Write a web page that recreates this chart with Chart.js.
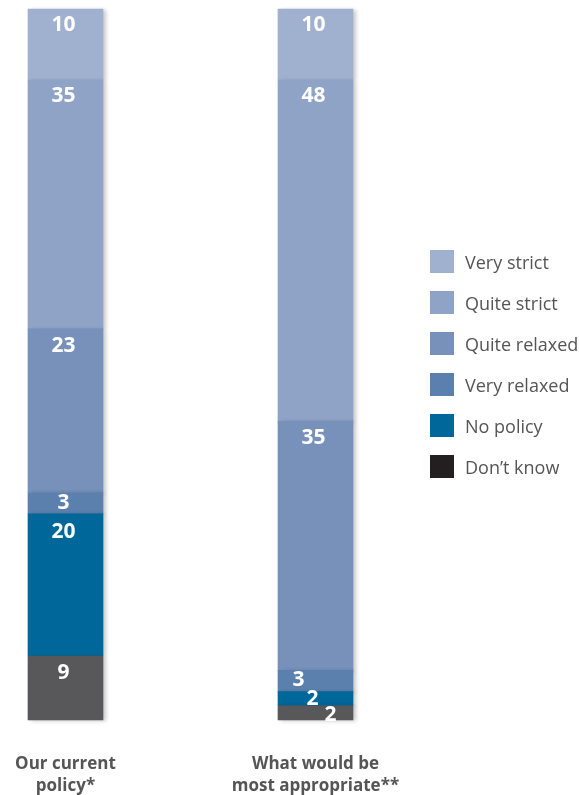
<!DOCTYPE html>
<html>
<head>
<meta charset="utf-8">
<script src="https://cdn.jsdelivr.net/npm/chart.js@4.4.1/dist/chart.umd.min.js"></script>
<style>
    body { margin: 0; background: #fff; font-family: "Open Sans", sans-serif; }
    #wrap { position: relative; width: 579px; height: 795px; }
    #legend { position: absolute; left: 430px; top: 250px; }
    .item { display: flex; align-items: center; height: 41px; margin: 0; }
    .item .box { width: 24px; height: 23px; margin-right: 11px; margin-top: -18px; }
    .item span { color: #555; font-size: 18px; margin-top: -18px; }
</style>
</head>
<body>
<div id="wrap">
    <canvas id="policyChart" width="579" height="795"></canvas>
    <div id="legend"></div>
</div>
<script>
// Data
const categories = [['Our current', 'policy*'], ['What would be', 'most appropriate**']];
const seriesNames = ['Very strict', 'Quite strict', 'Quite relaxed', 'Very relaxed', 'No policy', 'Don\u2019t know'];
const veryStrict = [10, 10];
const quiteStrict = [35, 48];
const quiteRelaxed = [23, 35];
const veryRelaxed = [3, 3];
const noPolicy = [20, 2];
const dontKnow = [9, 2];

const barColors = ['#a0b1cf', '#8fa3c6', '#7791ba', '#5c80ad', '#00679b', '#58585a'];
const legendColors = ['#a0b1cf', '#8fa3c6', '#7791ba', '#5c80ad', '#00679b', '#231f20'];

// stacking order: bottom first
const stack = [dontKnow, noPolicy, veryRelaxed, quiteRelaxed, quiteStrict, veryStrict];
const stackIdx = [5, 4, 3, 2, 1, 0];

// label nudges [dx, dy] from the top of each segment, by series then category
const nudge = {
    0: [[-2, 16], [-2, 16]],
    1: [[-2, 16], [-2, 16]],
    2: [[-2, 17], [-2, 17]],
    3: [[-2, 11], [-17, 10]],
    4: [[-2, 18], [-3, 7]],
    5: [[-2, 17], [15, 9]]
};

const barShadow = {
    id: 'barShadow',
    beforeDatasetsDraw(chart) {
        const c = chart.ctx;
        c.save();
        c.shadowColor = 'rgba(0,0,0,0.22)';
        c.shadowBlur = 4;
        c.shadowOffsetX = 3;
        c.shadowOffsetY = 1;
    },
    afterDatasetsDraw(chart) {
        chart.ctx.restore();
    }
};

const segLabels = {
    id: 'segLabels',
    afterDatasetsDraw(chart) {
        const c = chart.ctx;
        c.save();
        c.fillStyle = '#fff';
        c.font = 'bold 21px "Open Sans"';
        c.textAlign = 'center';
        c.textBaseline = 'middle';
        chart.data.datasets.forEach((ds, i) => {
            const s = stackIdx[i];
            chart.getDatasetMeta(i).data.forEach((bar, j) => {
                const n = nudge[s][j];
                c.fillText(String(ds.data[j]), bar.x + n[0], bar.y + n[1]);
            });
        });
        c.restore();
    }
};

new Chart(document.getElementById('policyChart'), {
    type: 'bar',
    data: {
        labels: categories,
        datasets: stack.map((d, i) => ({
            label: seriesNames[stackIdx[i]],
            data: d,
            backgroundColor: barColors[stackIdx[i]],
            barThickness: 75,
            clip: false
        }))
    },
    options: {
        responsive: false,
        animation: false,
        layout: { padding: { left: 65.5, right: 263.5, top: 9, bottom: 0 } },
        scales: {
            x: {
                stacked: true,
                offset: false,
                grid: { display: false, drawTicks: false },
                border: { display: false },
                ticks: {
                    color: '#555',
                    padding: 34,
                    font: { family: 'Open Sans', size: 17, weight: 'bold', lineHeight: 1.25 }
                },
                afterFit(scale) {
                    scale.paddingLeft = 0;
                    scale.paddingRight = 0;
                    scale.height = 75;
                }
            },
            y: {
                stacked: true,
                display: false,
                min: 0,
                max: 100
            }
        },
        plugins: {
            legend: { display: false },
            tooltip: { enabled: false }
        }
    },
    plugins: [barShadow, segLabels]
});

// Legend
const legend = document.getElementById('legend');
seriesNames.forEach((name, i) => {
    const row = document.createElement('div');
    row.className = 'item';
    row.innerHTML = '<div class="box" style="background:' + legendColors[i] + '"></div><span>' + name + '</span>';
    legend.appendChild(row);
});
</script>
</body>
</html>
